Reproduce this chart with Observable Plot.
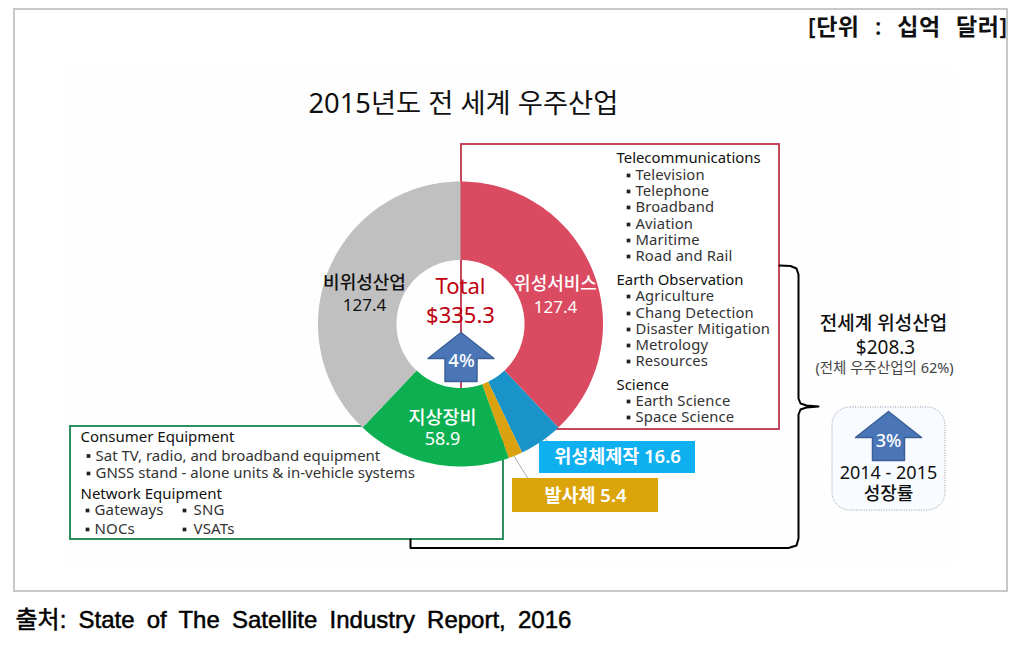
<!DOCTYPE html>
<html lang="ko"><head><meta charset="utf-8">
<script src="https://cdn.jsdelivr.net/npm/d3@7"></script>
<script src="https://cdn.jsdelivr.net/npm/@observablehq/plot@0.6"></script>
<style>
html,body{margin:0;padding:0;background:#fff}
svg{display:block}
.cap{word-spacing:5.5px}
.unit{word-spacing:9px;letter-spacing:.5px}
.wide{letter-spacing:.15px}
</style></head><body>
<script>
const segmentNames = ["위성서비스","위성체제작","발사체","지상장비","비위성산업"];
const segmentValues = [127.4,16.6,5.4,58.9,127.4];
const segmentColors = ["#da4a60","#1a93c8","#dba20f","#0cb050","#c0c0c0"];
const telecomItems = ["Television","Telephone","Broadband","Aviation","Maritime","Road and Rail"];
const earthItems = ["Agriculture","Chang Detection","Disaster Mitigation","Metrology","Resources"];
const scienceItems = ["Earth Science","Space Science"];
const consumerItems = ["Sat TV, radio, and broadband equipment","GNSS stand - alone units & in-vehicle systems"];
const networkItems = ["Gateways","NOCs","SNG","VSATs"];

const KR = '"Noto Sans","Noto Sans CJK KR",sans-serif';
const cx = 460.5, cy = 324, R = 142.5, r = 64;
const pie = d3.pie().sort(null)(segmentValues);
const ring = pie.flatMap((a,i) => {
  const n = Math.max(2, Math.ceil((a.endAngle-a.startAngle)*40));
  return d3.range(n+1).map(k => {
    const t = a.startAngle+(a.endAngle-a.startAngle)*k/n;
    return {name:segmentNames[i], xi:cx+r*Math.sin(t), yi:cy-r*Math.cos(t), xo:cx+R*Math.sin(t), yo:cy-R*Math.cos(t)};
  });
});
const T = (s,x,y,o={}) => Plot.text([s],{text:d=>d,x,y,fontFamily:KR,fill:"#111",...o});
const list = (items,x,ys,o={}) => Plot.text(items,{text:d=>d,x,y:(d,i)=>ys[i],textAnchor:"start",fontFamily:KR,fontSize:14.8,fill:"#333",...o});
const bullets = (xs,ys) => Plot.dot(ys.map((y,i)=>({x:xs[i]??xs[0],y})),{x:"x",y:"y",symbol:"square",r:2.1,fill:"#222"});
const poly = (pts,o) => Plot.line(pts,{x:d=>d[0],y:d=>d[1],...o});
const arrow = (c,top) => [[c,top],[c+33,top+26],[c+16,top+26],[c+16,top+49],[c-16,top+49],[c-16,top+26],[c-33,top+26],[c,top]];
const box = (x1,y1,x2,y2,o) => Plot.rect([0],{x1,y1,x2,y2,...o});

const chart = Plot.plot({
  width:1022,height:652,margin:0,
  x:{domain:[0,1022],range:[0,1022],axis:null},
  y:{domain:[0,652],range:[0,652],axis:null},
  color:{domain:segmentNames,range:segmentColors},
  marks:[
    box(14,9,1007,591,{fill:"#fff",stroke:"#c8c8c8",strokeWidth:2}),
    box(66,66,955,565,{fill:"#fefefe"}),
    T("[단위 : 십억 달러]",1007,27,{textAnchor:"end",fontSize:23,fontWeight:600,className:"unit"}),
    T("2015년도 전 세계 우주산업",308,104,{textAnchor:"start",fontSize:27.3}),
    box(461,144,779,429,{fill:"#fff",stroke:"#c4475c",strokeWidth:2}),
    box(70,426,503,539,{fill:"#fff",stroke:"#2e8f5e",strokeWidth:2}),
    poly([[779,265],[790,265.5],[796,268],[798,274],[798,398],[800,403],[806,405],[818,406],[806,407],[800,409],[798,414],[798,538],[796,545],[788,547.5],[410,547.5],[410,539]],{stroke:"#000",strokeWidth:2}),
    poly([[532,424],[548,442]],{stroke:"#aaa",strokeWidth:1}),
    poly([[510,450],[528,479]],{stroke:"#aaa",strokeWidth:1}),
    Plot.area(ring,{x1:"xi",y1:"yi",x2:"xo",y2:"yo",z:"name",fill:"name"}),
    box(539,441,695,473,{fill:"#0fb0ef"}),
    box(512,478,658,512,{fill:"#dba40b"}),
    T("위성체제작 16.6",617,457,{fill:"#fff",fontSize:18.5,fontWeight:600}),
    T("발사체 5.4",585,496,{fill:"#fff",fontSize:18.5,fontWeight:600}),
    T("비위성산업",364,283,{fontSize:18,fontWeight:500}),
    T("127.4",364,305,{fontSize:17}),
    T("위성서비스",555,284,{fill:"#fff",fontSize:18,fontWeight:500}),
    T("127.4",555,307,{fill:"#fff",fontSize:17}),
    T("지상장비",442,418,{fill:"#fff",fontSize:18.5,fontWeight:500}),
    T("58.9",442,439,{fill:"#fff",fontSize:18}),
    T("Total",460,286,{fill:"#c00010",fontSize:22}),
    T("$335.3",460,315,{fill:"#c00010",fontSize:22}),
    poly(arrow(460.5,332),{fill:"#4a76b8",stroke:"#3b6196",strokeWidth:1.5}),
    T("4%",461,361,{fill:"#fff",fontSize:18.5,fontWeight:500}),
    T("Telecommunications",616,158,{textAnchor:"start",fontSize:14.9,fill:"#111"}),
    bullets([628],[175,191,207,224,240,256]),
    list(telecomItems,635,[175,191,207,224,240,256],{className:"wide"}),
    T("Earth Observation",616,280,{textAnchor:"start",fontSize:14.9,fill:"#111"}),
    bullets([628],[296,313,329,345,361]),
    list(earthItems,635,[296,313,329,345,361],{className:"wide"}),
    T("Science",616,385,{textAnchor:"start",fontSize:14.9,fill:"#111"}),
    bullets([628],[401,417]),
    list(scienceItems,635,[401,417],{className:"wide"}),
    T("Consumer Equipment",80,437,{textAnchor:"start",fontSize:15,fill:"#111"}),
    bullets([88],[455.5,473]),
    list(consumerItems,95,[455.5,473],{fontSize:15}),
    T("Network Equipment",80,494,{textAnchor:"start",fontSize:15,fill:"#111"}),
    bullets([87,87,184,184],[510,529,510,529]),
    list(networkItems,94,[510,529],{fontSize:15,className:"wide",x:(d,i)=>i<2?94:193,y:(d,i)=>[510,529,510,529][i]}),
    T("전세계 위성산업",883,323,{fontSize:19,fontWeight:500}),
    T("$208.3",885,347,{fontSize:19}),
    T("(전체 우주산업의 62%)",884,368,{fontSize:14.5,fill:"#444"}),
    Plot.rect([0],{x1:832,y1:407,x2:945,y2:510,rx:18,fill:"#f8fbff",stroke:"#8b97a5",strokeDasharray:"1 1.5"}),
    poly(arrow(888,411),{fill:"#4a76b8",stroke:"#3b6196",strokeWidth:1.5}),
    T("3%",888,441,{fill:"#fff",fontSize:18,fontWeight:500}),
    T("2014 - 2015",888,473,{fontSize:18}),
    T("성장률",888,494,{fontSize:18,fontWeight:500}),
    T("출처: State of The Satellite Industry Report, 2016",15,620,{textAnchor:"start",fontFamily:'"Liberation Sans","Noto Sans CJK KR",sans-serif',fontSize:24,fill:"#000",stroke:"#000",strokeWidth:0.5,className:"cap"})
  ]
});
document.body.appendChild(chart);
</script></body></html>
